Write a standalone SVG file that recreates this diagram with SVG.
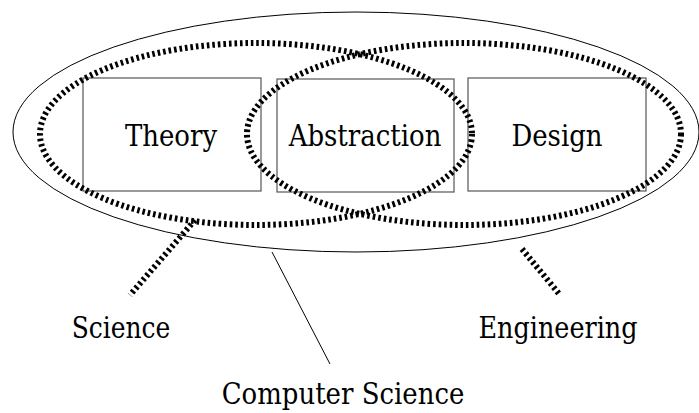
<svg xmlns="http://www.w3.org/2000/svg" width="699" height="413" viewBox="0 0 699 413">
<style>
.lbl{font-family:"DejaVu Serif","Liberation Serif",serif;font-size:26px;fill:#000;text-anchor:middle}
.box{fill:#fff;stroke:#555;stroke-width:1.2}
.thin{fill:none;stroke:#000;stroke-width:1}
.dash{fill:none;stroke:#000;stroke-width:6;stroke-dasharray:2.6 2.9}
</style>
<rect width="699" height="413" fill="#fff"/>
<g id="computer-science-area">
<ellipse class="thin" cx="356" cy="132" rx="343" ry="120"/>
</g>
<g id="theory">
<rect class="box" x="83" y="78" width="178" height="113"/>
<text class="lbl" transform="translate(171,145.5) scale(1,1.14)">Theory</text>
</g>
<g id="abstraction">
<rect class="box" x="277" y="79" width="177" height="113"/>
<text class="lbl" transform="translate(365,145.5) scale(1,1.14)">Abstraction</text>
</g>
<g id="design">
<rect class="box" x="468" y="78" width="178" height="113"/>
<text class="lbl" transform="translate(557,145.5) scale(1,1.14)">Design</text>
</g>
<g id="science-area">
<ellipse class="dash" cx="256" cy="134" rx="216" ry="91"/>
</g>
<g id="engineering-area">
<ellipse class="dash" cx="464" cy="134" rx="217" ry="91"/>
</g>
<g id="connectors">
<line class="dash" x1="195" y1="220" x2="130" y2="295"/>
<line class="dash" x1="522" y1="249" x2="560" y2="295"/>
<line class="thin" x1="272" y1="252" x2="330" y2="364"/>
</g>
<g id="science"><text class="lbl" transform="translate(121,337.5) scale(0.96,1.14)">Science</text></g>
<g id="engineering"><text class="lbl" transform="translate(558,337.5) scale(0.98,1.14)">Engineering</text></g>
<g id="computer-science"><text class="lbl" transform="translate(343,404) scale(1,1.14)">Computer Science</text></g>
</svg>
